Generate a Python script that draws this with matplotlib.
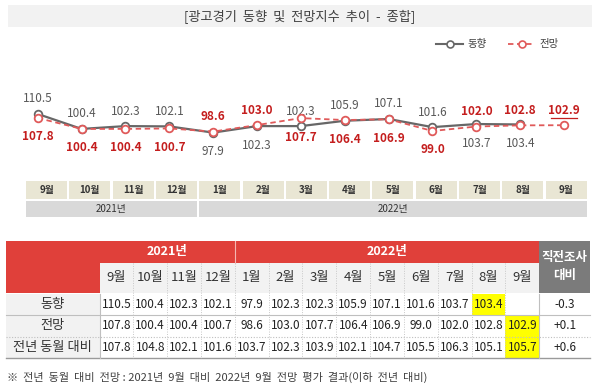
import matplotlib
matplotlib.use("Agg")
import matplotlib.pyplot as plt
from matplotlib.patches import Rectangle
from matplotlib.transforms import offset_copy

plt.rcParams["font.family"] = ["Noto Sans CJK KR", "DejaVu Sans"]

# ---- data ----
months = ["9월", "10월", "11월", "12월", "1월", "2월", "3월", "4월", "5월",
          "6월", "7월", "8월", "9월"]
years = ["2021년", "2022년"]
year_counts = [4, 9]
trend = [110.5, 100.4, 102.3, 102.1, 97.9, 102.3, 102.3, 105.9, 107.1,
         101.6, 103.7, 103.4]
outlook = [107.8, 100.4, 100.4, 100.7, 98.6, 103.0, 107.7, 106.4, 106.9,
           99.0, 102.0, 102.8, 102.9]
yoy = [107.8, 104.8, 102.1, 101.6, 103.7, 102.3, 103.9, 102.1, 104.7,
       105.5, 106.3, 105.1, 105.7]
change = ["-0.3", "+0.1", "+0.6"]
row_names = ["동향", "전망", "전년 동월 대비"]

# label placement on the line chart (1 = above the point)
trend_up = [1, 1, 1, 1, 0, 0, 1, 1, 1, 1, 0, 0]
outlook_up = [0, 0, 0, 0, 1, 1, 0, 0, 0, 0, 1, 1, 1]

RED = "#e0403a"
GRAY_LINE = "#676767"
RED_LINE = "#e05a5a"
RED_TEXT = "#c41e1e"

fig = plt.figure(figsize=(6, 3.89), dpi=100)

# background canvas in pixel coordinates
bg = fig.add_axes([0, 0, 1, 1])
bg.set_xlim(0, 600)
bg.set_ylim(389, 0)
bg.axis("off")

# title band
bg.add_patch(Rectangle((8, 5), 584, 22, color="#f2f2f2", lw=0))
bg.text(300, 16.5, "[광고경기  동향  및  전망지수  추이  -  종합]", ha="center",
        va="center", fontsize=9.5, color="#404040")

# legend
bg.plot([436, 463], [44, 44], color=GRAY_LINE, lw=1.5)
bg.plot([449.5], [44], "o", ms=5, mfc="white", mec=GRAY_LINE, mew=1.2)
bg.text(467, 44, "동향", va="center", fontsize=7.5, color="#404040")
bg.plot([508, 535], [44, 44], color=RED_LINE, lw=1.3, ls=(0, (3, 2)))
bg.plot([521.5], [44], "o", ms=5, mfc="white", mec=RED_LINE, mew=1.2)
bg.text(539, 44, "전망", va="center", fontsize=7.5, color="#404040")

# line chart
ax = fig.add_axes([15.8 / 600, (389 - 144.3) / 389, 570.2 / 600, 37 / 389])
ax.set_xlim(-0.5, 12.5)
ax.set_ylim(90, 115)
ax.axis("off")
ax.patch.set_alpha(0)
xs = list(range(len(months)))
ax.plot(xs[:len(trend)], trend, color=GRAY_LINE, lw=1.6, marker="o", ms=5.5,
        mfc="white", mec=GRAY_LINE, mew=1.3, zorder=3, clip_on=False)
ax.plot(xs, outlook, color=RED_LINE, lw=1.3, ls=(0, (3, 2)), marker="o",
        ms=5.5, mfc="white", mec=RED_LINE, mew=1.3, zorder=4, clip_on=False)
for i, v in enumerate(trend):
    dy = 15 if trend_up[i] else -19
    ax.annotate(f"{v:.1f}", (i, v), xytext=(0, dy), textcoords="offset pixels",
                ha="center", va="center", fontsize=8.5, color="#595959")
for i, v in enumerate(outlook):
    dy = 15 if outlook_up[i] else -19
    ax.annotate(f"{v:.1f}", (i, v), xytext=(0, dy), textcoords="offset pixels",
                ha="center", va="center", fontsize=8.5, color=RED_TEXT,
                fontweight="bold")
# underline for the latest outlook value
ul = offset_copy(ax.transData, fig=fig, x=0, y=7, units="dots")
ax.plot([len(months) - 1.29, len(months) - 0.71], [outlook[-1]] * 2,
        color=RED_TEXT, lw=0.9, transform=ul, clip_on=False)

# month / year cells under the chart
cw, step, cx0 = 41, 43.3, 26
for i, m in enumerate(months):
    bg.add_patch(Rectangle((cx0 + i * step, 181), cw, 18, color="#e9e6d4", lw=0))
    bg.text(cx0 + i * step + cw / 2, 190, m, ha="center", va="center",
            fontsize=7, color="#333333", fontweight="bold")
start = 0
for y, n in zip(years, year_counts):
    left = cx0 + start * step
    right = cx0 + (start + n - 1) * step + cw
    bg.add_patch(Rectangle((left, 201), right - left, 16, color="#d9d9d9", lw=0))
    bg.text((left + right) / 2, 209, y, ha="center", va="center", fontsize=7,
            color="#333333")
    start += n

# ---- table ----
X0, XL, CW, XR = 6, 99.5, 33.83, 590
col_x = [XL + i * CW for i in range(len(months) + 1)]
XC = col_x[-1]
row_top = [294, 314.5, 336.5]
row_bot = [314.5, 336.5, 358]

bg.add_patch(Rectangle((X0, 241), XL - X0, 52, color=RED, lw=0))
bg.add_patch(Rectangle((XL, 241), XC - XL, 22, color=RED, lw=0))
bg.plot([col_x[4], col_x[4]], [241, 263], color="#f4b6b2", lw=0.8)
start = 0
for y, n in zip(years, year_counts):
    bg.text((col_x[start] + col_x[start + n]) / 2, 252, y, ha="center",
            va="center", fontsize=9, color="white", fontweight="bold")
    start += n
bg.add_patch(Rectangle((XL, 263), XC - XL, 30, color="#f2f2f2", lw=0))
for i, m in enumerate(months):
    bg.text((col_x[i] + col_x[i + 1]) / 2, 278, m, ha="center", va="center",
            fontsize=9.5, color="#333333")
bg.add_patch(Rectangle((XC, 241), XR - XC, 52, color="#7b7b7b", lw=0))
bg.text((XC + XR) / 2, 267, "직전조사\n대비", ha="center", va="center",
        fontsize=9, color="white", fontweight="bold", linespacing=1.5)

bg.add_patch(Rectangle((X0, 294), XL - X0, 64, color="#f2f2f2", lw=0))

table_rows = [trend + [None], outlook, yoy]
highlight = [(0, 11), (1, 12), (2, 12)]
for r, c in highlight:
    bg.add_patch(Rectangle((col_x[c], row_top[r]), CW, row_bot[r] - row_top[r],
                           color="#ffff00", lw=0))
for r, vals in enumerate(table_rows):
    yc = (row_top[r] + row_bot[r]) / 2
    bg.text((X0 + XL) / 2, yc, row_names[r], ha="center", va="center",
            fontsize=9.5, color="#333333")
    for i, v in enumerate(vals):
        if v is None:
            continue
        bg.text((col_x[i] + col_x[i + 1]) / 2, yc, f"{v:.1f}", ha="center",
                va="center", fontsize=8.5, color="#222222")
    bg.text((XC + XR) / 2, yc, change[r], ha="center", va="center",
            fontsize=8.5, color="#222222")

# grid lines
bg.plot([X0, XR], [314.5, 314.5], color="#bfbfbf", lw=0.8)
bg.plot([X0, XR], [336.5, 336.5], color="#bfbfbf", lw=0.8, ls=(0, (1, 1.5)))
bg.plot([X0, XR], [358, 358], color="#9a9a9a", lw=1)
bg.plot([XL, XL], [294, 358], color="#bfbfbf", lw=0.8)
bg.plot([XC, XC], [294, 358], color="#bfbfbf", lw=0.8)
for x in col_x[1:-1]:
    bg.plot([x, x], [263, 358], color="#c8c8c8", lw=0.7, ls=(0, (1, 1.5)))

# footnote
bg.text(7, 377, "※  전년  동월  대비  전망 : 2021년  9월  대비  2022년  9월  전망  평가  결과(이하  전년  대비)",
        ha="left", va="center", fontsize=8, color="#404040")

fig.savefig("out.png", dpi=100)
